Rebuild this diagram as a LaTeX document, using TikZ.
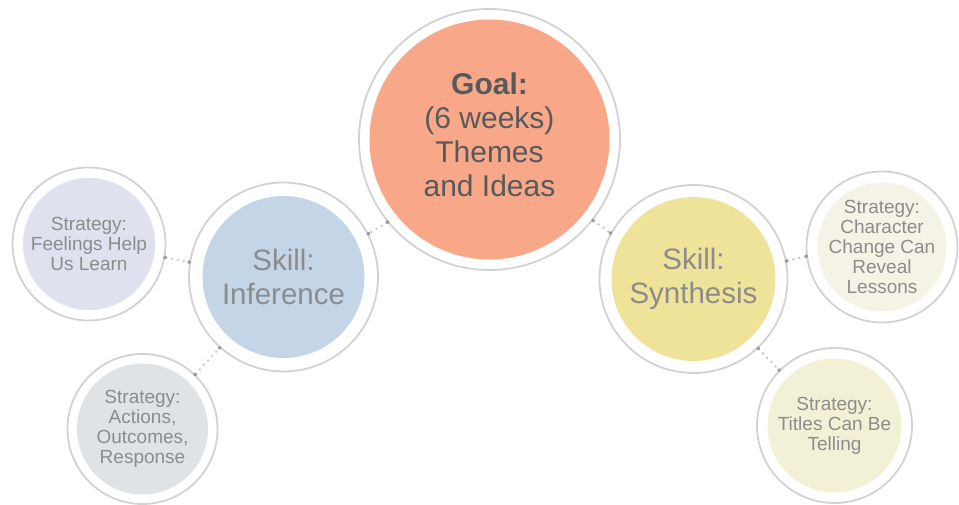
\documentclass[tikz,border=0pt]{standalone}
\usepackage{fontspec}
\setmainfont{Liberation Sans}
\usetikzlibrary{arrows.meta}
\definecolor{ringgray}{HTML}{D2D2D2}
\definecolor{dotgray}{HTML}{BDBDBD}
\definecolor{dotdark}{HTML}{9A9A9A}
\definecolor{goalfill}{HTML}{F8A888}
\definecolor{inffill}{HTML}{C3D5E6}
\definecolor{feelfill}{HTML}{DFE2EE}
\definecolor{actfill}{HTML}{E0E3E6}
\definecolor{synfill}{HTML}{EEE399}
\definecolor{charfill}{HTML}{F5F3E6}
\definecolor{titfill}{HTML}{F3F1D5}
\definecolor{goalgray}{HTML}{58595B}
\definecolor{softgray}{HTML}{8C8C8C}
\begin{document}
\begin{tikzpicture}[x=1pt,y=-1pt,
 bubble/.style n args={3}{circle,draw=ringgray,line width=1.8pt,fill=white,inner sep=0pt,
   align=center,minimum size=#1pt,
   path picture={\fill[#2] (path picture bounding box.center) circle[radius=#3pt];}},
 goaltext/.style={text=goalgray,font=\fontsize{30}{34}\selectfont,align=center,yshift=5pt},
 skilltext/.style={text=softgray,font=\fontsize{29.5}{34}\selectfont},
 strattext/.style={text=softgray,font=\fontsize{19}{20}\selectfont},
 link/.style={dotgray,line width=2.4pt,line cap=round,dash pattern=on 0pt off 6pt,
   {Circle[length=3.5pt,dotdark]}-{Circle[length=3.5pt,dotdark]},
   shorten <=-1.75pt,shorten >=-1.75pt}]
 \useasboundingbox (0,0) rectangle (959,505);
 % goal and skills
 \node[bubble={261}{goalfill}{120},
   label={[goaltext]center:{\textbf{Goal:}\\(6 weeks)\\Themes\\and Ideas}}] (goal) at (489.5,139.5) {};
 \node[bubble={189}{inffill}{81},skilltext] (inference) at (283.5,277) {Skill:\\Inference};
 \node[bubble={188}{synfill}{82},skilltext] (synthesis) at (693.5,279) {Skill:\\Synthesis};
 % strategies
 \node[bubble={153}{feelfill}{66},strattext] (feelings) at (89,244)
   {Strategy:\\Feelings Help\\Us Learn};
 \node[bubble={150}{actfill}{65.5},strattext] (actions) at (142.5,429)
   {Strategy:\\Actions,\\Outcomes,\\Response};
 \node[bubble={151}{charfill}{64.5},strattext] (character) at (882,247)
   {Strategy:\\Character\\Change Can\\Reveal\\Lessons};
 \node[bubble={155}{titfill}{67},strattext] (titles) at (834.5,425.5)
   {Strategy:\\Titles Can Be\\Telling};
 % dotted links
 \draw[link] (goal.219) -- (inference.27);
 \draw[link] (goal.322) -- (synthesis.151);
 \draw[link] (feelings.350) -- (inference.171);
 \draw[link] (actions.46) -- (inference.228);
 \draw[link] (synthesis.11) -- (character.187);
 \draw[link] (synthesis.313) -- (titles.135);
\end{tikzpicture}
\end{document}
